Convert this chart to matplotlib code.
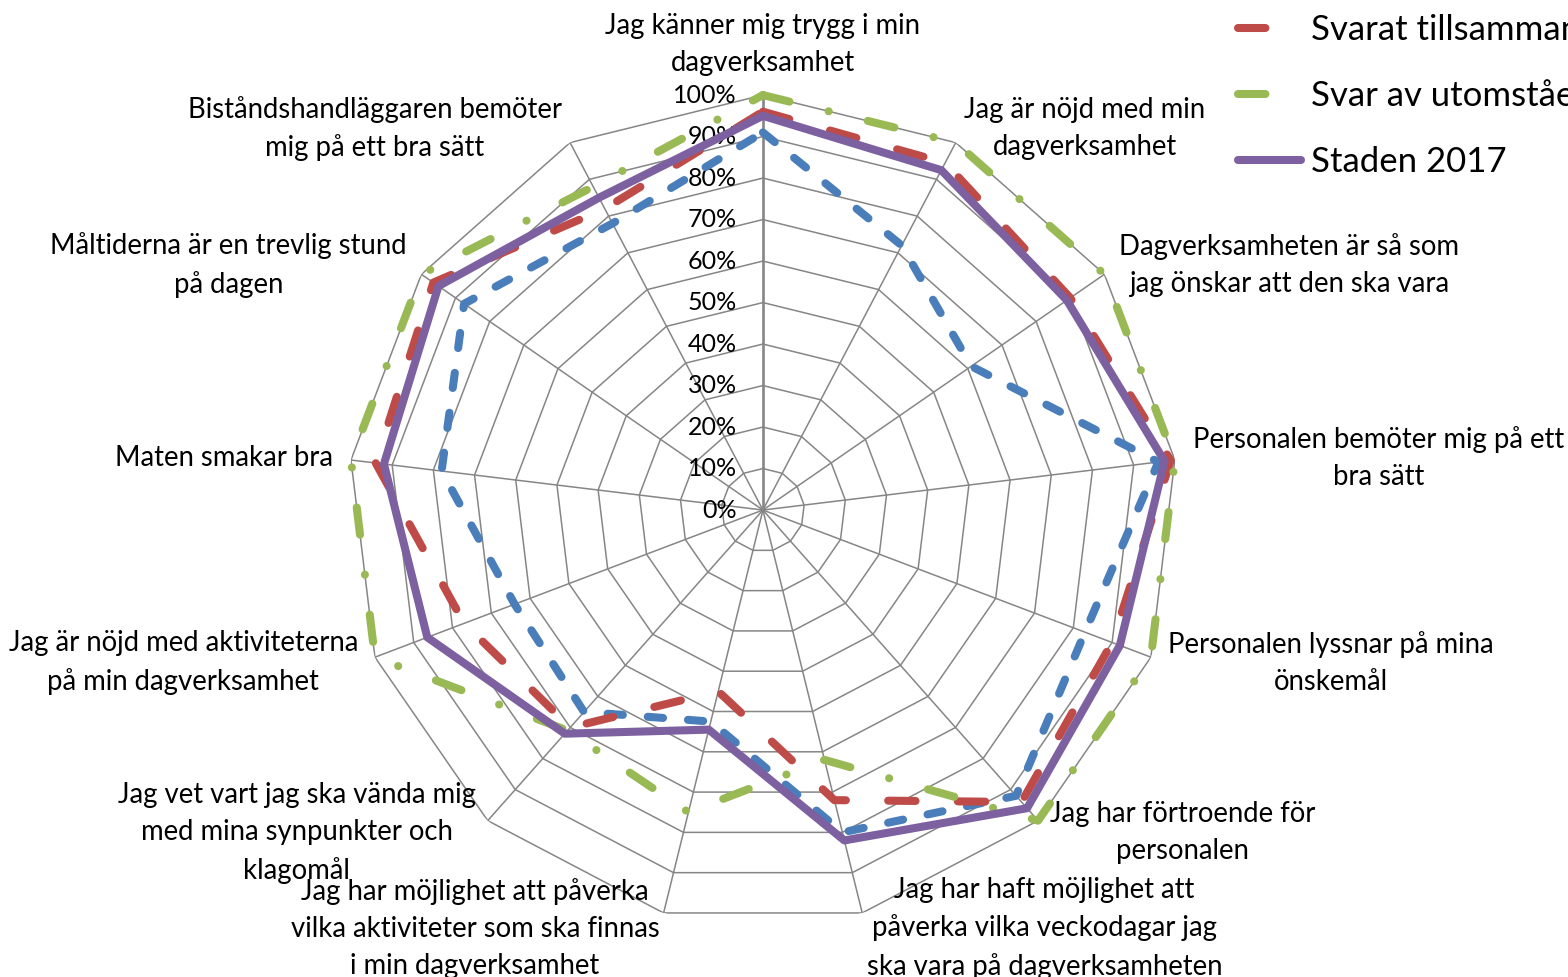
import numpy as np
import matplotlib.pyplot as plt

plt.rcParams['font.family'] = ['Lato', 'DejaVu Sans']

# Radar categories (clockwise from top)
categories = [
    'Jag känner mig trygg i min\ndagverksamhet',
    'Jag är nöjd med min\ndagverksamhet',
    'Dagverksamheten är så som\njag önskar att den ska vara',
    'Personalen bemöter mig på ett\nbra sätt',
    'Personalen lyssnar på mina\nönskemål',
    'Jag har förtroende för\npersonalen',
    'Jag har haft möjlighet att\npåverka vilka veckodagar jag\nska vara på dagverksamheten',
    'Jag har möjlighet att påverka\nvilka aktiviteter som ska finnas\ni min dagverksamhet',
    'Jag vet vart jag ska vända mig\nmed mina synpunkter och\nklagomål',
    'Jag är nöjd med aktiviteterna\npå min dagverksamhet',
    'Maten smakar bra',
    'Måltiderna är en trevlig stund\npå dagen',
    'Biståndshandläggaren bemöter\nmig på ett bra sätt',
]

# Share of positive answers (%)
svarat_sjalv = [91, 72, 61, 96, 83, 92, 80, 52.5, 65, 64, 78, 87.5, 78]
svarat_tillsammans = [96, 94.5, 90, 99, 90, 94, 72, 45, 70, 77, 94, 96.5, 82]
svar_utomstaende = [100, 100, 100, 100, 100, 100, 62, 75, 71, 100, 100, 100, 88]
staden_2017 = [95, 92.5, 89, 97.5, 92, 96, 82, 54.5, 72, 86.5, 92, 95, 85]

ticks = [0, 10, 20, 30, 40, 50, 60, 70, 80, 90, 100]

fig = plt.figure(figsize=(15.68, 9.77), dpi=100)
ax = fig.add_axes([0.2219, 0.0532, 0.5293, 0.8495], projection='polar')
ax.set_theta_offset(np.pi / 2)
ax.set_theta_direction(-1)
ax.set_ylim(0, 100)
ax.grid(False)
ax.set_xticks([])
ax.set_yticks([])
ax.spines['polar'].set_visible(False)
ax.patch.set_visible(False)

n = len(categories)
angles = np.arange(n) * 2 * np.pi / n
closed = np.append(angles, angles[0])

# polygon grid
grid_color = '#868686'
for level in ticks[1:]:
    ax.plot(closed, [level] * len(closed), color=grid_color, lw=1.1, zorder=1)
for i, a in enumerate(angles):
    ax.plot([a, a], [0, 100], color=grid_color, lw=1.9 if i == 0 else 1.1, zorder=1)

for t in ticks:
    ax.annotate(f'{t}%', xy=(0, t), xytext=(-26, 0), textcoords='offset pixels',
                ha='right', va='center', fontsize=18)

series = [
    ('Svarat själv', svarat_sjalv, '#4A7EBB', (0, (1.9, 3.1))),
    ('Svarat tillsammans med någon', svarat_tillsammans, '#BE4B48', (0, (3.4, 5.25))),
    ('Svar av utomstående person', svar_utomstaende, '#98B954', (0, (3.4, 5.0, 0.01, 5.0))),
    ('Staden 2017', staden_2017, '#7D60A0', '-'),
]
lines = []
for name, vals, color, ls in series:
    ln, = ax.plot(closed, np.append(vals, vals[0]), color=color, lw=5.8, ls=ls,
                  dash_capstyle='round', solid_joinstyle='round', solid_capstyle='round',
                  label=name, zorder=3, clip_on=False)
    lines.append(ln)

# category labels around the web
for a, label in zip(angles, categories):
    phi = np.pi / 2 - a
    c, s = np.cos(phi), np.sin(phi)
    if abs(c) < 0.05:
        ax.annotate(label, xy=(a, 100), xytext=(0, 19), textcoords='offset pixels',
                    ha='center', va='bottom', multialignment='center',
                    fontsize=19.8, linespacing=1.54)
    else:
        ax.annotate(label, xy=(a, 100), xytext=(18 * c, 16 * s), textcoords='offset pixels',
                    ha='left' if c > 0 else 'right', va='center',
                    multialignment='center', fontsize=19.8, linespacing=1.54)

fig.legend(handles=lines[1:], loc='upper left', bbox_to_anchor=(1238 / 1568, 1 - 13 / 977),
           frameon=False, fontsize=25, handlelength=1.8, handletextpad=0.29,
           labelspacing=0.965, borderpad=0, borderaxespad=0)

fig.savefig('out.png', dpi=100)
